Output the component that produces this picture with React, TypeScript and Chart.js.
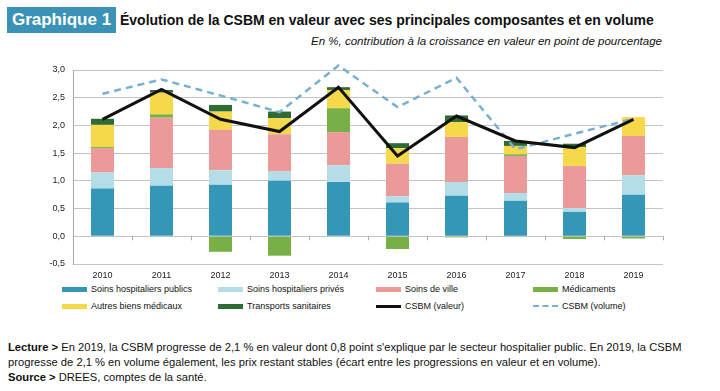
import React, { useEffect, useRef } from "react";
import { Chart, registerables } from "chart.js";

Chart.register(...registerables);

const years = ["2010", "2011", "2012", "2013", "2014", "2015", "2016", "2017", "2018", "2019"];
const soinsHospPublics = [0.86, 0.91, 0.93, 1.0, 0.98, 0.61, 0.73, 0.64, 0.44, 0.75];
const soinsHospPrives = [0.29, 0.32, 0.26, 0.17, 0.3, 0.11, 0.25, 0.14, 0.07, 0.35];
const soinsDeVille = [0.44, 0.91, 0.73, 0.67, 0.6, 0.59, 0.81, 0.67, 0.76, 0.71];
const medicaments = [0.02, 0.06, -0.28, -0.35, 0.43, -0.23, -0.02, 0.03, -0.05, -0.04];
const autresBiens = [0.4, 0.39, 0.33, 0.29, 0.33, 0.28, 0.27, 0.15, 0.34, 0.34];
const transports = [0.11, 0.05, 0.12, 0.12, 0.05, 0.09, 0.12, 0.09, 0.06, 0.0];
const csbmValeur = [2.11, 2.65, 2.11, 1.89, 2.69, 1.45, 2.17, 1.72, 1.6, 2.11];
const csbmVolume = [2.57, 2.83, 2.54, 2.24, 3.08, 2.33, 2.86, 1.57, 1.85, 2.12];
const yTicks = [-0.5, 0, 0.5, 1.0, 1.5, 2.0, 2.5, 3.0];

const C = {
  publics: "#3497b8",
  prives: "#b4dde8",
  ville: "#ea9b99",
  medic: "#78b045",
  autres: "#f5d94a",
  transp: "#2f6b34",
  valeur: "#111111",
  volume: "#78b0d2",
};

const legendItems = [
  { label: "Soins hospitaliers publics", color: C.publics, kind: "bar" },
  { label: "Soins hospitaliers privés", color: C.prives, kind: "bar" },
  { label: "Soins de ville", color: C.ville, kind: "bar" },
  { label: "Médicaments", color: C.medic, kind: "bar" },
  { label: "Autres biens médicaux", color: C.autres, kind: "bar" },
  { label: "Transports sanitaires", color: C.transp, kind: "bar" },
  { label: "CSBM (valeur)", color: C.valeur, kind: "line" },
  { label: "CSBM (volume)", color: C.volume, kind: "dash" },
];
const legendCols = [62, 218, 376, 533];
const legendRows = [289, 306];

const FONT = "'Liberation Sans', Arial, sans-serif";
const NARROW = "'Liberation Sans Narrow', 'Arial Narrow', 'Liberation Sans', Arial, sans-serif";

const zeroTicks = {
  id: "zeroTicks",
  afterDatasetsDraw(chart: any) {
    const x = chart.scales.x;
    const y = chart.scales.y;
    const ctx = chart.ctx;
    const y0 = y.getPixelForValue(0);
    ctx.save();
    ctx.strokeStyle = "#a8a8a8";
    ctx.lineWidth = 1;
    ctx.beginPath();
    const n = years.length;
    for (let i = 0; i <= n; i++) {
      const px = Math.round(x.left + (i * (x.right - x.left)) / n) + 0.5;
      ctx.moveTo(px, y0);
      ctx.lineTo(px, y0 + 4);
    }
    ctx.stroke();
    ctx.restore();
  },
};

function ChartBox() {
  const ref = useRef<HTMLCanvasElement | null>(null);
  useEffect(() => {
    document.body.style.margin = "0";
    if (!ref.current) return;
    const bar = (label: string, data: number[], color: string) => ({
      type: "bar" as const,
      label,
      data,
      backgroundColor: color,
      stack: "bars",
      barPercentage: 0.39,
      categoryPercentage: 1,
      order: 2,
    });
    const chart = new Chart(ref.current, {
      type: "bar",
      data: {
        labels: years,
        datasets: [
          bar("Soins hospitaliers publics", soinsHospPublics, C.publics),
          bar("Soins hospitaliers privés", soinsHospPrives, C.prives),
          bar("Soins de ville", soinsDeVille, C.ville),
          bar("Médicaments", medicaments, C.medic),
          bar("Autres biens médicaux", autresBiens, C.autres),
          bar("Transports sanitaires", transports, C.transp),
          {
            type: "line" as const,
            label: "CSBM (volume)",
            data: csbmVolume,
            borderColor: C.volume,
            borderWidth: 2.5,
            borderDash: [7, 5],
            pointRadius: 0,
            fill: false,
            tension: 0,
            stack: "vol",
            order: 1,
            clip: false,
          },
          {
            type: "line" as const,
            label: "CSBM (valeur)",
            data: csbmValeur,
            borderColor: C.valeur,
            borderWidth: 3,
            pointRadius: 0,
            fill: false,
            tension: 0,
            stack: "val",
            order: 0,
            clip: false,
          },
        ] as any,
      },
      options: {
        animation: false,
        responsive: false,
        maintainAspectRatio: false,
        layout: { padding: { top: 15, right: 17, left: 0, bottom: 0 } },
        plugins: { legend: { display: false }, tooltip: { enabled: false } },
        scales: {
          x: {
            stacked: true,
            grid: { display: false, drawTicks: false },
            border: { display: false },
            ticks: { color: "#222", font: { family: FONT, size: 9 }, padding: 6, maxRotation: 0 },
            afterFit: (s: any) => {
              s.height = 16;
            },
          },
          y: {
            stacked: true,
            min: -0.5,
            max: 3.0,
            afterBuildTicks: (s: any) => {
              s.ticks = yTicks.map((v) => ({ value: v }));
            },
            grid: { color: "#c4c4c4", lineWidth: 1, drawTicks: false },
            border: { display: true, color: "#a8a8a8", width: 1 },
            ticks: {
              color: "#222",
              font: { family: FONT, size: 9 },
              padding: 8,
              callback: (v: any) => Number(v).toFixed(1).replace(".", ","),
            },
            afterFit: (s: any) => {
              s.width = 73;
            },
          },
        },
      },
      plugins: [zeroTicks],
    });
    return () => chart.destroy();
  }, []);
  return (
    <canvas
      ref={ref}
      width={680}
      height={225}
      style={{ position: "absolute", left: 0, top: 55, width: 680, height: 225 }}
    />
  );
}

export default function App() {
  return (
    <div style={{ position: "relative", width: 720, height: 391, background: "#fff", overflow: "hidden", fontFamily: FONT }}>
      <div
        style={{
          position: "absolute",
          left: 7,
          top: 7,
          width: 109,
          height: 26,
          background: "#3a93b6",
          color: "#fff",
          fontWeight: "bold",
          fontSize: 17,
          lineHeight: "26px",
          textAlign: "center",
          fontFamily: FONT,
          whiteSpace: "nowrap",
        }}
      >
        Graphique 1
      </div>
      <div
        style={{
          position: "absolute",
          left: 120,
          top: 8,
          height: 24,
          lineHeight: "24px",
          fontSize: 14,
          fontWeight: "bold",
          color: "#111",
          fontFamily: NARROW,
          whiteSpace: "nowrap",
        }}
      >
        Évolution de la CSBM en valeur avec ses principales composantes et en volume
      </div>
      <div
        style={{
          position: "absolute",
          right: 720 - 662,
          top: 35,
          fontSize: 11.5,
          fontStyle: "italic",
          color: "#111",
          fontFamily: FONT,
          whiteSpace: "nowrap",
        }}
      >
        En %, contribution à la croissance en valeur en point de pourcentage
      </div>
      <ChartBox />
      {legendItems.map((it, i) => {
        const left = legendCols[i % 4];
        const top = legendRows[Math.floor(i / 4)];
        let sw: React.ReactNode;
        if (it.kind === "bar") {
          sw = <div style={{ position: "absolute", left: 0, top: -2.5, width: 25, height: 5, background: it.color }} />;
        } else if (it.kind === "line") {
          sw = <div style={{ position: "absolute", left: 0, top: -1.5, width: 25, height: 3, background: it.color }} />;
        } else {
          sw = (
            <div
              style={{
                position: "absolute",
                left: 0,
                top: -1,
                width: 25,
                height: 0,
                borderTop: `2.5px dashed ${it.color}`,
              }}
            />
          );
        }
        return (
          <div key={i} style={{ position: "absolute", left, top, height: 0 }}>
            {sw}
            <div
              style={{
                position: "absolute",
                left: 29,
                top: -6,
                fontSize: 9,
                lineHeight: "12px",
                color: "#111",
                whiteSpace: "nowrap",
              }}
            >
              {it.label}
            </div>
          </div>
        );
      })}
      <div
        style={{
          position: "absolute",
          left: 8,
          top: 340,
          width: 712,
          fontSize: 11.2,
          lineHeight: "15px",
          color: "#111",
          fontFamily: FONT,
        }}
      >
        <div style={{ whiteSpace: "nowrap" }}>
          <b>Lecture &gt;</b> En 2019, la CSBM progresse de 2,1 % en valeur dont 0,8 point s'explique par le secteur hospitalier public. En 2019, la CSBM
        </div>
        <div style={{ whiteSpace: "nowrap" }}>
          progresse de 2,1 % en volume également, les prix restant stables (écart entre les progressions en valeur et en volume).
        </div>
        <div style={{ whiteSpace: "nowrap" }}>
          <b>Source &gt;</b> DREES, comptes de la santé.
        </div>
      </div>
    </div>
  );
}
